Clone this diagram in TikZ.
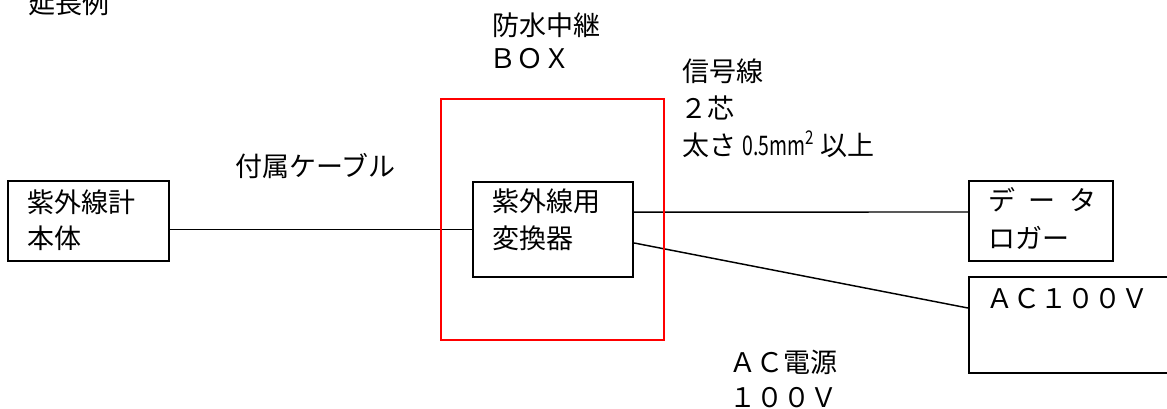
\documentclass[tikz,border=0pt]{standalone}
\usepackage{graphicx}
\usepackage{fontspec}
\setmainfont{Noto Sans CJK JP}
\begin{document}
\begin{tikzpicture}[x=0.75pt,y=-0.75pt,
  box/.style={draw=black,line width=1.6pt,inner sep=0pt,rectangle},
  redbox/.style={draw=red,line width=1.5pt,inner sep=0pt,rectangle},
  wire/.style={draw=black,line width=1.1pt},
  lbl/.style={inner sep=0pt,anchor=base west,font=\fontsize{20.25}{24}\selectfont}]
\useasboundingbox (0,0) rectangle (1167,408);
\clip (0,0) rectangle (1167,408);
\fill[white] (0,0) rectangle (1167,408);
% boxes
\node[box,minimum width=120.75pt,minimum height=60pt] (body) at (88.5,221) {};
\node[box,minimum width=120pt,minimum height=71.25pt] (conv) at (553,229.5) {};
\node[box,minimum width=108pt,minimum height=60pt] (lg) at (1041,221) {};
\node[box,minimum width=165.75pt,minimum height=72pt] (ac) at (1079.5,325) {};
% wires
\draw[wire] (body.east |- conv.west) -- (conv.west);
\draw[wire] ([yshift=13.1pt]conv.east) -- ([yshift=6.75pt]lg.west);
\draw[wire] ([yshift=-10.1pt]conv.east) -- ([yshift=12.75pt]ac.west);
% waterproof relay box
\node[redbox,minimum width=167.25pt,minimum height=180.75pt] (relay) at (552.5,219.5) {};
% labels
\node[lbl] (t0) at (28,13) {延長例};
\node[lbl] (t1) at (492,35) {防水中継};
\node[lbl] (t2) at (489,68) {ＢＯＸ};
\node[lbl] (t3) at (682,81) {信号線};
\node[lbl] (t4) at (680,118) {２芯};
\node[lbl] (t5) at (682,155) {太さ \scalebox{0.72}[1]{0.5mm}\textsuperscript{\scalebox{0.8}[1]{2}} 以上};
\node[lbl] (t6) at (235,176) {付属ケーブル};
\node[lbl] (t7) at (27,212) {紫外線計};
\node[lbl] (t8) at (27,248) {本体};
\node[lbl] (t9) at (492,211) {紫外線用};
\node[lbl] (t10) at (492,248) {変換器};
\node[lbl] (t11) at (988,210) {デ\hspace{0.5em}ー\hspace{0.5em}タ};
\node[lbl] (t12) at (988,248) {ロガー};
\node[lbl] (t13) at (986,308) {ＡＣ１００Ｖ};
\node[lbl] (t14) at (729,372) {ＡＣ電源};
\node[lbl] (t15) at (729,407) {１００Ｖ};
\end{tikzpicture}
\end{document}
